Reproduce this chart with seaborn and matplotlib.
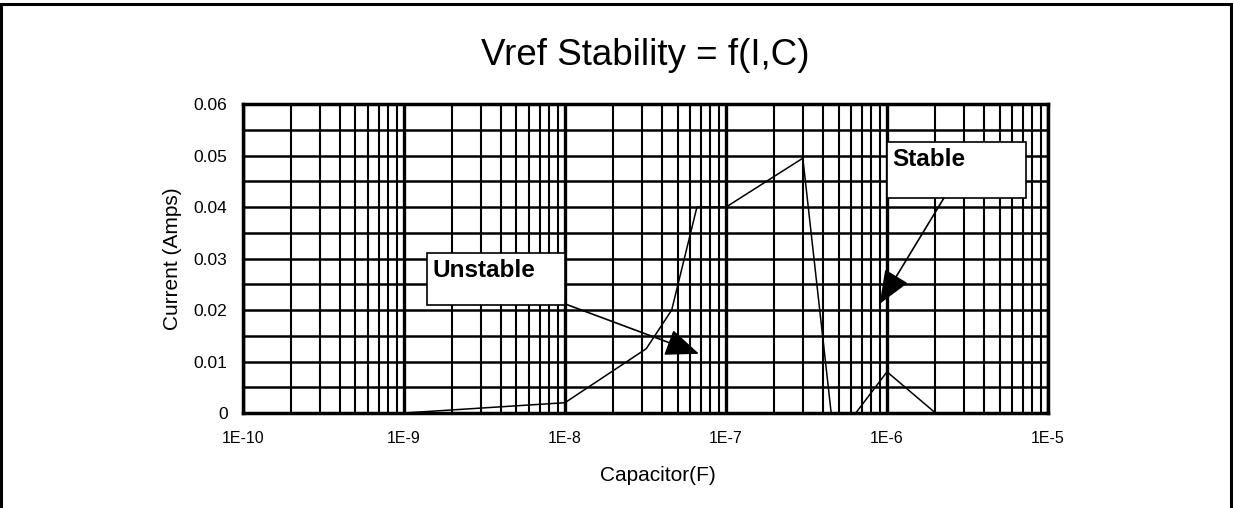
import numpy as np
import pandas as pd
import seaborn as sns
import matplotlib
matplotlib.use('Agg')
import matplotlib.pyplot as plt
from matplotlib.patches import Rectangle
from matplotlib.ticker import FixedLocator, NullFormatter

# data
capacitance = [1e-10, 1e-9, 1e-8, 3.2e-8, 4.6e-8, 6.6e-8, 1e-7, 3e-7, 4.5e-7, 6.4e-7, 1e-6, 2e-6, 1e-5]
current = [0, 0, 0.002, 0.0125, 0.02, 0.04, 0.04, 0.0495, 0, 0, 0.008, 0, 0]
xtick_vals = [1e-10, 1e-9, 1e-8, 1e-7, 1e-6, 1e-5]
xtick_labels = ['1E-10', '1E-9', '1E-8', '1E-7', '1E-6', '1E-5']
ytick_vals = [0, 0.01, 0.02, 0.03, 0.04, 0.05, 0.06]
ytick_labels = ['0', '0.01', '0.02', '0.03', '0.04', '0.05', '0.06']

df = pd.DataFrame({'C': capacitance, 'I': current})

sns.set_style('white')
plt.rcParams['font.family'] = ['Liberation Sans', 'DejaVu Sans']
for k in ['text.color', 'axes.labelcolor', 'xtick.color', 'ytick.color']:
    plt.rcParams[k] = 'black'

fig = plt.figure(figsize=(12.33, 5.08), dpi=100)
ax = fig.add_axes([0.197, 0.187, 0.653, 0.608])
ax.set_xscale('log')
ax.set_xlim(1e-10, 1e-5)
ax.set_ylim(0, 0.06)

# grid
ax.xaxis.set_major_locator(FixedLocator(xtick_vals))
ax.set_xticklabels(xtick_labels, fontsize=11.5)
minor = [m * 10.0 ** e for e in range(-10, -5) for m in range(2, 10)]
ax.xaxis.set_minor_locator(FixedLocator(minor))
ax.xaxis.set_minor_formatter(NullFormatter())
ax.set_yticks(ytick_vals)
ax.set_yticklabels(ytick_labels, fontsize=12.5)
ax.yaxis.set_minor_locator(FixedLocator(np.arange(0.005, 0.06, 0.01)))
ax.grid(True, which='major', axis='x', color='black', lw=2.4)
ax.grid(True, which='minor', axis='x', color='black', lw=1.5)
ax.grid(True, which='major', axis='y', color='black', lw=1.8)
ax.grid(True, which='minor', axis='y', color='black', lw=1.8)
ax.set_axisbelow(True)
for s in ax.spines.values():
    s.set_color('black')
    s.set_linewidth(2.5)
ax.tick_params(axis='x', which='both', length=0, pad=13)
ax.tick_params(axis='y', which='major', length=5, width=1.5, color='black', pad=6)
ax.tick_params(axis='y', which='minor', length=0)

sns.lineplot(data=df, x='C', y='I', sort=False, color='black', lw=1.1, ax=ax, clip_on=True, zorder=3)

ax.set_xlabel('Capacitor(F)', fontsize=15)
ax.xaxis.set_label_coords(0.515, -0.172)
ax.set_ylabel('Current (Amps)', fontsize=15)
ax.yaxis.set_label_coords(-0.076, 0.5)
ax.set_title('Vref Stability = f(I,C)', fontsize=26.5, pad=28)

# callout boxes
boxes = [((1.39e-9, 0.021), 1e-8, 0.0311, 'Unstable'),
         ((1e-6, 0.0417), 7.3e-6, 0.0526, 'Stable')]
for (x0, y0), x1, y1, label in boxes:
    ax.add_patch(Rectangle((x0, y0), x1 - x0, y1 - y0, facecolor='white',
                           edgecolor='black', lw=1.2, zorder=5))
    ax.text(x0 * 1.08, y1 - 0.0012, label, fontsize=17.5, fontweight='bold',
            va='top', ha='left', zorder=6)

arrows = [((1e-8, 0.0212), (6.8e-8, 0.0115)),
          ((2.25e-6, 0.0417), (9e-7, 0.0212))]
for start, end in arrows:
    ax.annotate('', xy=end, xytext=start, zorder=6,
                arrowprops=dict(arrowstyle='-|>,head_length=2.1,head_width=0.85',
                                color='black', lw=1.2, shrinkA=0, shrinkB=0))

# outer border (open at the bottom, as in the reference)
fig.patches.append(Rectangle((0.001, -0.05), 0.997, 1.042, transform=fig.transFigure,
                             fill=False, edgecolor='black', lw=2.2))

fig.savefig('out.png', dpi=100)
